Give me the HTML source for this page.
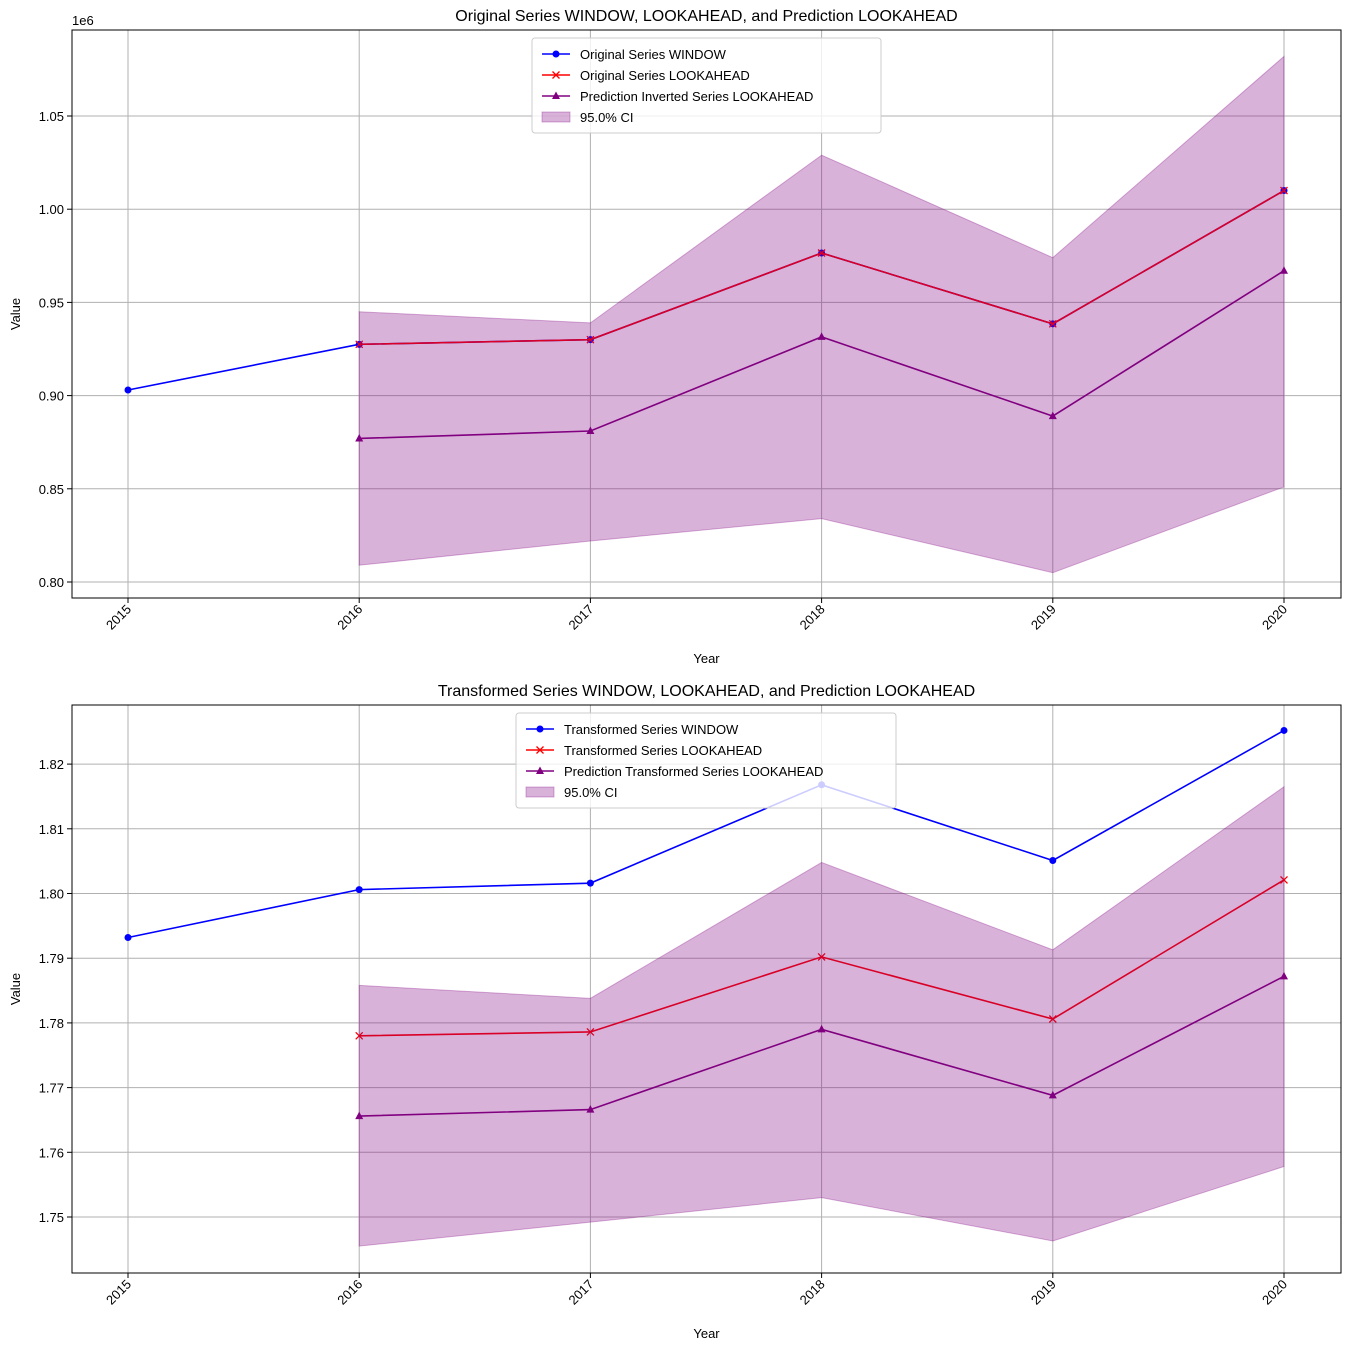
<!DOCTYPE html>
<html><head><meta charset="utf-8"><style>
body{margin:0;background:#fff;}
svg text{font-family:"Liberation Sans","DejaVu Sans",sans-serif;}
</style></head><body>
<svg id="chart" width="1350" height="1350" xmlns="http://www.w3.org/2000/svg"></svg>
<script>
const years = [2015, 2016, 2017, 2018, 2019, 2020];
const topWindow = [0.903, 0.9275, 0.930, 0.9765, 0.9385, 1.010];
const topLook = [0.9275, 0.930, 0.9765, 0.9385, 1.010];
const topPred = [0.877, 0.881, 0.9315, 0.889, 0.967];
const topUpper = [0.945, 0.939, 1.029, 0.974, 1.082];
const topLower = [0.809, 0.822, 0.834, 0.805, 0.851];
const topTicks = ["0.80", "0.85", "0.90", "0.95", "1.00", "1.05"];
const botWindow = [1.7932, 1.8006, 1.8016, 1.8168, 1.8051, 1.8252];
const botLook = [1.7780, 1.7786, 1.7902, 1.7806, 1.8021];
const botPred = [1.7656, 1.7666, 1.7790, 1.7688, 1.7872];
const botUpper = [1.7858, 1.7838, 1.8048, 1.7913, 1.8165];
const botLower = [1.7455, 1.7492, 1.7530, 1.7463, 1.7578];
const botTicks = ["1.75", "1.76", "1.77", "1.78", "1.79", "1.80", "1.81", "1.82"];

const NS = "http://www.w3.org/2000/svg";
const svg = document.getElementById("chart");
function mk(tag, attrs, parent, text) {
  const e = document.createElementNS(NS, tag);
  for (const k in attrs) e.setAttribute(k, attrs[k]);
  if (text !== undefined) e.textContent = text;
  (parent || svg).appendChild(e);
  return e;
}

function panel(cfg) {
  const g = mk("g", {});
  
  
  const L = 72, R = 1341, T = cfg.top, B = cfg.top + 568;
  const clipId = cfg.name + "-clip";
  const cp = mk("clipPath", {id: clipId}, g);
  mk("rect", {x: L, y: T, width: R - L, height: B - T}, cp);
  const xs = y => 128 + (y - 2015) * 231.2;
  const ys = v => cfg.y0 - (v - cfg.v0) * cfg.pxPer;
  const plot = mk("g", {"clip-path": `url(#${clipId})`}, g);
  years.forEach(y => {
    const l = mk("line", {x1: xs(y), x2: xs(y), y1: T, y2: B, stroke: "#b0b0b0", "stroke-width": 1}, plot);
    
    
    const t = mk("text", {x: 0, y: 0, "font-size": 13, "text-anchor": "end", transform: `translate(${xs(y)+4},${B+12}) rotate(-45)`}, g, String(y));
    
    
    mk("line", {x1: xs(y), x2: xs(y), y1: B, y2: B + 5, stroke: "#000"}, g);
  });
  cfg.ticks.forEach(s => {
    const v = parseFloat(s), yy = ys(v);
    const l = mk("line", {x1: L, x2: R, y1: yy, y2: yy, stroke: "#b0b0b0", "stroke-width": 1}, plot);
    
    
    mk("line", {x1: L - 5, x2: L, y1: yy, y2: yy, stroke: "#000"}, g);
    const t = mk("text", {x: L - 8, y: yy + 5, "font-size": 13, "text-anchor": "end"}, g, s);
    
    
  });
  const lk = years.slice(1);
  function line(vals, yrs, color, marker, name) {
    const pts = vals.map((v, i) => xs(yrs[i]) + "," + ys(v)).join(" ");
    const p = mk("polyline", {points: pts, fill: "none", stroke: color, "stroke-width": 1.6}, plot);
    
    
    vals.forEach((v, i) => drawMarker(plot, xs(yrs[i]), ys(v), color, marker));
  }
  line(cfg.win, years, "#0000ff", "o", "window-series-line");
  line(cfg.look, lk, "#ff0000", "x", "lookahead-series-line");
  line(cfg.pred, lk, "#800080", "^", "prediction-series-line");
  const up = cfg.upper.map((v, i) => xs(lk[i]) + "," + ys(v));
  const lo = cfg.lower.map((v, i) => xs(lk[i]) + "," + ys(v)).reverse();
  const band = mk("polygon", {points: up.concat(lo).join(" "), fill: "#800080", "fill-opacity": 0.3, stroke: "#800080", "stroke-opacity": 0.3}, plot);
  
  
  mk("rect", {x: L, y: T, width: R - L, height: B - T, fill: "none", stroke: "#000", "stroke-width": 1}, g);
  const tt = mk("text", {x: (L + R) / 2, y: T - 9, "font-size": 16, "text-anchor": "middle"}, g, cfg.title);
  
  
  const xt = mk("text", {x: (L + R) / 2, y: B + 65, "font-size": 13, "text-anchor": "middle"}, g, "Year");
  
  
  const yt = mk("text", {x: 0, y: 0, "font-size": 13, "text-anchor": "middle", transform: `translate(20,${(T + B) / 2}) rotate(-90)`}, g, "Value");
  
  
  if (cfg.offset) mk("text", {x: 72, y: T - 5, "font-size": 13}, g, cfg.offset);
  const lg = mk("g", {}, g);
  
  
  mk("rect", {x: cfg.lx, y: T + 8, width: cfg.lw, height: 95, rx: 3, fill: "#fff", "fill-opacity": 0.8, stroke: "#ccc"}, lg);
  const items = [["#0000ff", "o"], ["#ff0000", "x"], ["#800080", "^"], [null, null]];
  items.forEach((it, i) => {
    const yy = T + 24 + i * 21;
    const x0 = cfg.lx + 10;
    if (it[0]) {
      mk("line", {x1: x0, x2: x0 + 28, y1: yy, y2: yy, stroke: it[0], "stroke-width": 1.6}, lg);
      drawMarker(lg, x0 + 14, yy, it[0], it[1]);
    } else {
      mk("rect", {x: x0, y: yy - 5, width: 28, height: 10, fill: "#800080", "fill-opacity": 0.3, stroke: "#800080", "stroke-opacity": 0.3}, lg);
    }
    const t = mk("text", {x: x0 + 38, y: yy + 5, "font-size": 13}, lg, cfg.labels[i]);
    
    
  });
}
function drawMarker(g, x, y, c, m) {
  if (m === "o") mk("circle", {cx: x, cy: y, r: 3.5, fill: c}, g);
  else if (m === "x") {
    mk("line", {x1: x - 3.5, y1: y - 3.5, x2: x + 3.5, y2: y + 3.5, stroke: c, "stroke-width": 1.3}, g);
    mk("line", {x1: x - 3.5, y1: y + 3.5, x2: x + 3.5, y2: y - 3.5, stroke: c, "stroke-width": 1.3}, g);
  } else mk("polygon", {points: `${x},${y-4.5} ${x+4},${y+3} ${x-4},${y+3}`, fill: c}, g);
}

panel({name: "top-panel", top: 30, y0: 582, v0: 0.80, pxPer: 93.2 / 0.05, ticks: topTicks,
  win: topWindow, look: topLook, pred: topPred, upper: topUpper, lower: topLower,
  title: "Original Series WINDOW, LOOKAHEAD, and Prediction LOOKAHEAD", offset: "1e6",
  lx: 532, lw: 349,
  labels: ["Original Series WINDOW", "Original Series LOOKAHEAD", "Prediction Inverted Series LOOKAHEAD", "95.0% CI"]});
panel({name: "bottom-panel", top: 705, y0: 1217, v0: 1.75, pxPer: 64.7 / 0.01, ticks: botTicks,
  win: botWindow, look: botLook, pred: botPred, upper: botUpper, lower: botLower,
  title: "Transformed Series WINDOW, LOOKAHEAD, and Prediction LOOKAHEAD", offset: "",
  lx: 516, lw: 380,
  labels: ["Transformed Series WINDOW", "Transformed Series LOOKAHEAD", "Prediction Transformed Series LOOKAHEAD", "95.0% CI"]});
</script>
</body></html>
